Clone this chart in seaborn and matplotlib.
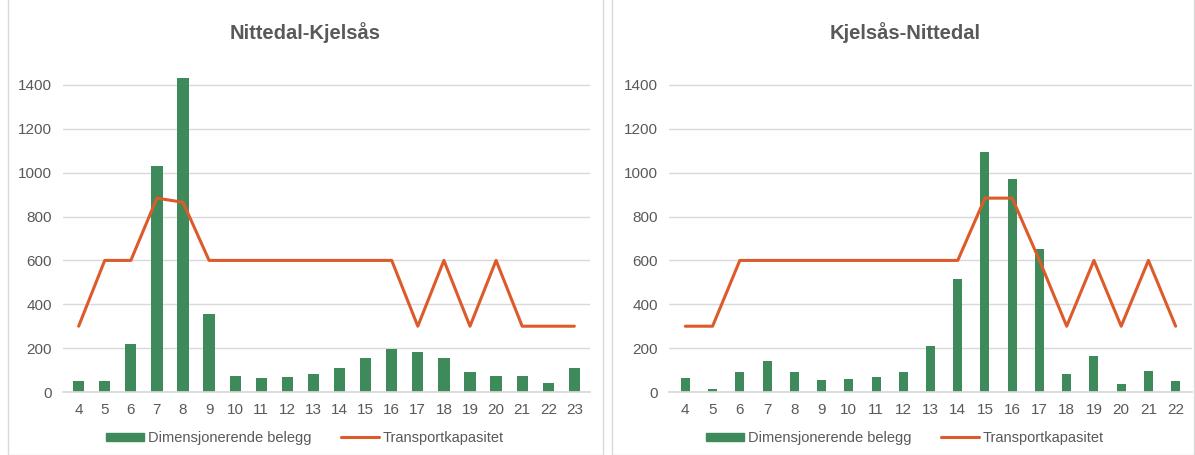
import numpy as np
import pandas as pd
import matplotlib
matplotlib.use("Agg")
import matplotlib.pyplot as plt
import seaborn as sns
from matplotlib.patches import Rectangle, Patch
from matplotlib.lines import Line2D

# data
hours_nk = list(range(4, 24))
belegg_nk = [52, 49, 219, 1032, 1433, 355, 74, 62, 70, 84, 108, 156, 197, 182, 153, 91, 74, 74, 41, 111]
kapasitet_nk = [300, 600, 600, 884, 865, 600, 600, 600, 600, 600, 600, 600, 600, 300, 600, 300, 600, 300, 300, 300]

hours_kn = list(range(4, 23))
belegg_kn = [62, 14, 92, 141, 92, 54, 58, 67, 92, 212, 516, 1096, 969, 651, 83, 166, 38, 95, 50]
kapasitet_kn = [300, 300, 600, 600, 600, 600, 600, 600, 600, 600, 600, 884, 884, 600, 300, 600, 300, 600, 300]

titles = ["Nittedal-Kjelsås", "Kjelsås-Nittedal"]
yticks = [0, 200, 400, 600, 800, 1000, 1200, 1400]

GREEN = "#3F8A5A"
ORANGE = "#DD5A2A"
GREY = "#595959"

sns.set_theme(style="white")
plt.rcParams["font.family"] = ["Liberation Sans", "DejaVu Sans"]

fig = plt.figure(figsize=(11.95, 4.55), dpi=100)
W, H = 1195, 455

# panel frames
for x0, x1 in [(8, 603), (612, 1194)]:
    fig.patches.append(Rectangle((x0 / W, 0), (x1 - x0) / W, 1.2, transform=fig.transFigure,
                                 fill=False, edgecolor="#D9D9D9", lw=1))

panels = [
    (hours_nk, belegg_nk, kapasitet_nk, 63, 590, 0.43, 305),
    (hours_kn, belegg_kn, kapasitet_kn, 669, 1192, 0.33, 905),
]

for (hours, belegg, kap, px0, px1, bw, tx), title in zip(panels, titles):
    df = pd.DataFrame({"time": [str(h) for h in hours], "belegg": belegg, "kap": kap})
    ax = fig.add_axes([px0 / W, 63 / H, (px1 - px0) / W, 318 / H])
    sns.barplot(data=df, x="time", y="belegg", color=GREEN, width=bw, saturation=1,
                edgecolor=GREEN, linewidth=0, ax=ax)
    sns.lineplot(x=df.index, y=df["kap"], color=ORANGE, lw=2.2, ax=ax)
    ax.set_xlim(-0.6, len(hours) - 0.4)
    ax.set_ylim(0, 1450)
    ax.set_yticks(yticks)
    ax.yaxis.grid(True, color="#D9D9D9", lw=1)
    ax.set_axisbelow(True)
    for s in ["top", "right", "left"]:
        ax.spines[s].set_visible(False)
    ax.spines["bottom"].set_color("#D9D9D9")
    ax.tick_params(axis="both", colors=GREY, labelsize=11, length=0, pad=8)
    ax.set_xlabel("")
    ax.set_ylabel("")
    fig.text(tx / W, 1 - 33 / H, title, ha="center", va="center", fontsize=14.5,
             fontweight="bold", color=GREY)
    handles = [Patch(facecolor=GREEN, edgecolor=GREEN),
               Line2D([0], [0], color=ORANGE, lw=2.2)]
    fig.legend(handles, ["Dimensjonerende belegg", "Transportkapasitet"],
               loc="center", bbox_to_anchor=(tx / W, 1 - 438 / H), ncol=2, frameon=False,
               fontsize=10.5, labelcolor=GREY, handlelength=2.6, handleheight=0.5,
               columnspacing=2.0, handletextpad=0.3)

fig.savefig("out.png", dpi=100)
